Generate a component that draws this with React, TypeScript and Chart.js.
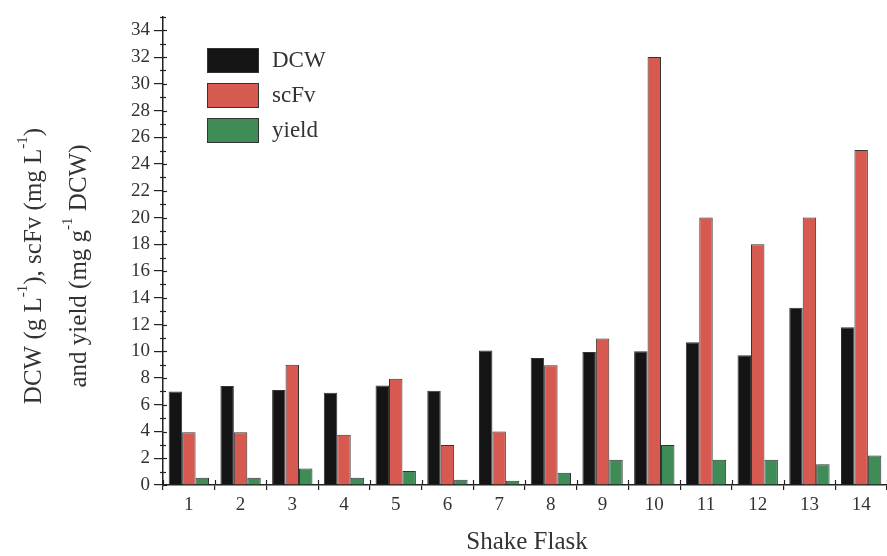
import React, { useEffect, useRef } from "react";
import { Chart, registerables } from "chart.js";

Chart.register(...registerables);

const categories = ["1", "2", "3", "4", "5", "6", "7", "8", "9", "10", "11", "12", "13", "14"];
const dcw = [7.0, 7.4, 7.1, 6.9, 7.45, 7.05, 10.05, 9.5, 9.95, 10.0, 10.67, 9.7, 13.25, 11.8];
const scfv = [3.95, 3.95, 9.0, 3.76, 7.95, 3.0, 4.0, 8.95, 10.95, 32.0, 20.0, 18.0, 20.0, 25.05];
const yieldVals = [0.55, 0.55, 1.24, 0.55, 1.05, 0.4, 0.32, 0.92, 1.89, 3.0, 1.88, 1.88, 1.55, 2.2];
const seriesNames = ["DCW", "scFv", "yield"];
const seriesColors = ["#141414", "#d65a50", "#3f8c57"];
const yTitleLine1 = [
  { t: "DCW (g L" }, { t: "-1", sup: true }, { t: "), scFv (mg L" }, { t: "-1", sup: true }, { t: ")" },
];
const yTitleLine2 = [
  { t: "and yield (mg g" }, { t: "-1", sup: true }, { t: " DCW)" },
];
const xTitle = "Shake Flask";

const FONT = "'Liberation Serif', 'Times New Roman', serif";
const TEXT = "#333333";

function drawRich(ctx: CanvasRenderingContext2D, segs: any[], cx: number, cy: number, size: number) {
  const supSize = Math.round(size * 0.6);
  let total = 0;
  const widths = segs.map((s) => {
    ctx.font = `${s.sup ? supSize : size}px ${FONT}`;
    const w = ctx.measureText(s.t).width;
    total += w;
    return w;
  });
  ctx.save();
  ctx.translate(cx, cy);
  ctx.rotate(-Math.PI / 2);
  let x = -total / 2;
  ctx.fillStyle = TEXT;
  ctx.textBaseline = "middle";
  ctx.textAlign = "left";
  segs.forEach((s, i) => {
    ctx.font = `${s.sup ? supSize : size}px ${FONT}`;
    ctx.fillText(s.t, x, s.sup ? -size * 0.42 : 0);
    x += widths[i];
  });
  ctx.restore();
}

const decorPlugin = {
  id: "decor",
  afterDraw(chart: any) {
    const ctx = chart.ctx as CanvasRenderingContext2D;
    const y = chart.scales.y;
    const x = chart.scales.x;
    const area = chart.chartArea;
    ctx.save();
    ctx.strokeStyle = "#222";
    ctx.lineWidth = 1.2;
    // minor / inner y ticks
    for (let v = 0; v <= 35; v++) {
      const py = Math.round(y.getPixelForValue(v)) + 0.5;
      ctx.beginPath();
      if (v % 2 === 1) {
        ctx.moveTo(area.left - 3, py);
        ctx.lineTo(area.left + 3, py);
      } else {
        ctx.moveTo(area.left, py);
        ctx.lineTo(area.left + 4, py);
      }
      ctx.stroke();
    }
    // inner x ticks at category boundaries
    for (let i = 0; i <= categories.length; i++) {
      const px = Math.round(x.getPixelForValue(i - 0.5)) + 0.5;
      ctx.beginPath();
      ctx.moveTo(px, area.bottom);
      ctx.lineTo(px, area.bottom - 5);
      ctx.stroke();
    }
    // legend
    chart.data.datasets.forEach((ds: any, i: number) => {
      const top = 48 + i * 35;
      ctx.fillStyle = ds.backgroundColor;
      ctx.fillRect(207, top, 52, 25);
      ctx.strokeStyle = "#333";
      ctx.lineWidth = 1;
      ctx.strokeRect(207.5, top + 0.5, 51, 24);
      ctx.fillStyle = TEXT;
      ctx.font = `23px ${FONT}`;
      ctx.textBaseline = "middle";
      ctx.textAlign = "left";
      ctx.fillText(ds.label, 272, top + 13);
    });
    // axis titles
    drawRich(ctx, yTitleLine1, 34, 266, 25);
    drawRich(ctx, yTitleLine2, 79, 266, 25);
    ctx.fillStyle = TEXT;
    ctx.font = `25px ${FONT}`;
    ctx.textAlign = "center";
    ctx.textBaseline = "middle";
    ctx.fillText(xTitle, 527, 542);
    ctx.restore();
  },
};

export default function App() {
  const ref = useRef<HTMLCanvasElement>(null);
  useEffect(() => {
    if (!ref.current) return;
    const values = [dcw, scfv, yieldVals];
    const chart = new Chart(ref.current, {
      type: "bar",
      data: {
        labels: categories,
        datasets: values.map((d, i) => ({
          label: seriesNames[i],
          data: d,
          backgroundColor: seriesColors[i],
          borderColor: "#333333",
          borderWidth: 1,
          categoryPercentage: 0.78,
          barPercentage: 1.0,
        })),
      },
      options: {
        responsive: false,
        animation: false,
        devicePixelRatio: 1,
        layout: { padding: { top: 17, left: 0, right: 0, bottom: 0 } },
        plugins: { legend: { display: false }, tooltip: { enabled: false } },
        scales: {
          x: {
            grid: {
              offset: true,
              drawOnChartArea: false,
              drawTicks: true,
              tickLength: 5,
              color: "#222",
              lineWidth: 1.2,
            },
            border: { display: true, color: "#222", width: 1.5 },
            ticks: {
              color: TEXT,
              font: { family: FONT, size: 19 },
              padding: 4,
              maxRotation: 0,
            },
            afterFit: (s: any) => {
              s.height = 71;
            },
          },
          y: {
            min: 0,
            max: 35,
            ticks: {
              stepSize: 1,
              color: TEXT,
              font: { family: FONT, size: 19 },
              padding: 4,
            },
            afterBuildTicks: (s: any) => {
              s.ticks = s.ticks.filter((t: any) => t.value % 2 === 0);
            },
            grid: {
              drawOnChartArea: false,
              drawTicks: true,
              tickLength: 9,
              color: "#222",
              lineWidth: 1.2,
            },
            border: { display: true, color: "#222", width: 1.5 },
            afterFit: (s: any) => {
              s.width = 163;
            },
          },
        },
      },
      plugins: [decorPlugin],
    });
    return () => chart.destroy();
  }, []);
  return (
    <div style={{ position: "fixed", left: 0, top: 0, width: 887, height: 556, background: "#fff" }}>
      <canvas ref={ref} width={887} height={556} />
    </div>
  );
}
